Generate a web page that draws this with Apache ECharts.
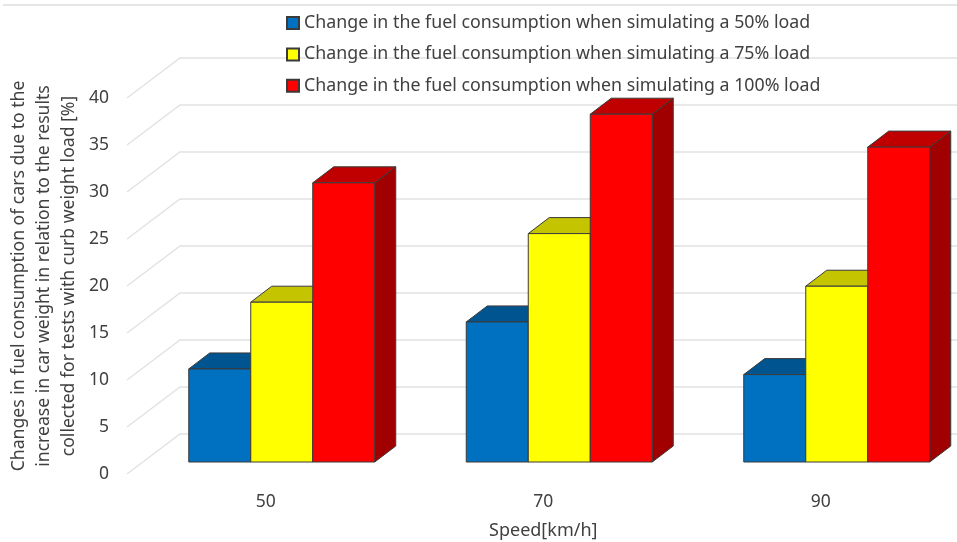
<!DOCTYPE html>
<html>
<head>
<meta charset="utf-8">
<style>
  html, body { margin: 0; padding: 0; background: #fff; }
  #chart { width: 957px; height: 542px; }
</style>
<script src="https://cdn.jsdelivr.net/npm/echarts@6/dist/echarts.min.js"></script>
</head>
<body>
<div id="chart"></div>
<script>
// speeds on the x axis, one value per load level
const speeds = ["50", "70", "90"];
const load50 = [9.9, 14.9, 9.3];
const load75 = [17.0, 24.3, 18.7];
const load100 = [29.7, 37.0, 33.5];
const gridTicks = [0, 5, 10, 15, 20, 25, 30, 35, 40];

const names = [
  "Change in the fuel consumption when simulating a 50% load",
  "Change in the fuel consumption when simulating a 75% load",
  "Change in the fuel consumption when simulating a 100% load",
];

const FONT = "'Noto Sans', sans-serif";
const INK = "#404040";

// fake-3D box: the front face sits a little behind the axis plane,
// top and side go back by DEPTH, gridlines run back by WALL
const FRONT = { dx: 16, dy: -12 };
const DEPTH = { dx: 21, dy: -16 };
const WALL = { dx: 53, dy: -40 };
const BAR_SHARE = 62 / 277.5;

const shades = [
  { front: "#0070c0", top: "#005590", side: "#004a80" },
  { front: "#ffff00", top: "#c4c400", side: "#a8a800" },
  { front: "#ff0000", top: "#c00000", side: "#a00000" },
];

function boxRenderer(idx) {
  return (params, api) => {
    const band = api.size([1, 0])[0];
    const w = band * BAR_SHARE;
    const mid = api.coord([api.value(0), 0]);
    const top = api.coord([api.value(0), api.value(1)]);
    const x0 = mid[0] + FRONT.dx + (idx - 1.5) * w;
    const x1 = x0 + w;
    const y0 = mid[1] + FRONT.dy;
    const y1 = top[1] + FRONT.dy;
    const s = shades[idx];
    const edge = { stroke: "#3a3a3a", lineWidth: 1 };
    const poly = (points, fill) => ({
      type: "polygon",
      shape: { points },
      style: { fill, ...edge },
    });
    return {
      type: "group",
      children: [
        poly([[x1, y0], [x1 + DEPTH.dx, y0 + DEPTH.dy], [x1 + DEPTH.dx, y1 + DEPTH.dy], [x1, y1]], s.side),
        poly([[x0, y1], [x1, y1], [x1 + DEPTH.dx, y1 + DEPTH.dy], [x0 + DEPTH.dx, y1 + DEPTH.dy]], s.top),
        poly([[x0, y0], [x1, y0], [x1, y1], [x0, y1]], s.front),
      ],
    };
  };
}

function wallRenderer(params, api) {
  const p = api.coord([0, api.value(0)]);
  const left = params.coordSys.x;
  const right = left + params.coordSys.width;
  return {
    type: "polyline",
    shape: { points: [[left, p[1]], [left + WALL.dx, p[1] + WALL.dy], [right, p[1] + WALL.dy]] },
    style: { fill: null, stroke: "#e2e2e2", lineWidth: 1.5 },
  };
}

const loads = [load50, load75, load100];

const chart = echarts.init(document.getElementById("chart"), null, { renderer: "canvas" });
chart.setOption({
  backgroundColor: "#fff",
  animation: false,
  textStyle: { fontFamily: FONT, color: INK },
  grid: { left: 127, top: 98, bottom: 68, width: 832.5, outerBoundsMode: "none" },
  legend: {
    orient: "vertical",
    left: 281,
    top: 6,
    icon: "rect",
    itemWidth: 12,
    itemHeight: 12,
    itemGap: 7.4,
    data: names,
    textStyle: { fontFamily: FONT, fontSize: 17.8, color: INK, lineHeight: 24 },
  },
  xAxis: {
    type: "category",
    data: speeds,
    name: "Speed[km/h]",
    nameLocation: "middle",
    nameGap: 48,
    nameMoveOverlap: false,
    nameTextStyle: { fontFamily: FONT, fontSize: 18, color: INK },
    axisLine: { show: false },
    axisTick: { show: false },
    axisLabel: { margin: 19, fontFamily: FONT, fontSize: 17.5, color: INK },
  },
  yAxis: {
    type: "value",
    min: 0,
    max: 40,
    interval: 5,
    name: "Changes in fuel consumption of cars due to the\nincrease in car weight in relation to the results\ncollected for tests with curb weight load [%]",
    nameLocation: "middle",
    nameRotate: 90,
    nameGap: 46,
    nameMoveOverlap: false,
    nameTextStyle: { fontFamily: FONT, fontSize: 17.6, color: INK, lineHeight: 25, padding: [0, 0, 0, 20] },
    axisLine: { show: false },
    axisTick: { show: false },
    splitLine: { show: false },
    axisLabel: { margin: 18, padding: [4, 0, 0, 0], fontFamily: FONT, fontSize: 17.5, color: INK },
  },
  series: [
    {
      type: "custom",
      silent: true,
      z: 1,
      renderItem: wallRenderer,
      encode: { y: 0 },
      data: gridTicks.map((t) => [t]),
    },
    ...loads.map((vals, i) => ({
      type: "custom",
      name: names[i],
      z: 2 + i,
      itemStyle: { color: shades[i].front, borderColor: "#3a3a3a", borderWidth: 1 },
      renderItem: boxRenderer(i),
      encode: { x: 0, y: 1 },
      data: vals.map((v, k) => [k, v]),
    })),
  ],
  graphic: [{
    type: "line",
    shape: { x1: 3, y1: 5, x2: 957, y2: 5 },
    style: { stroke: "#dcdcdc", lineWidth: 1.5 },
    silent: true,
  }],
});
</script>
</body>
</html>
